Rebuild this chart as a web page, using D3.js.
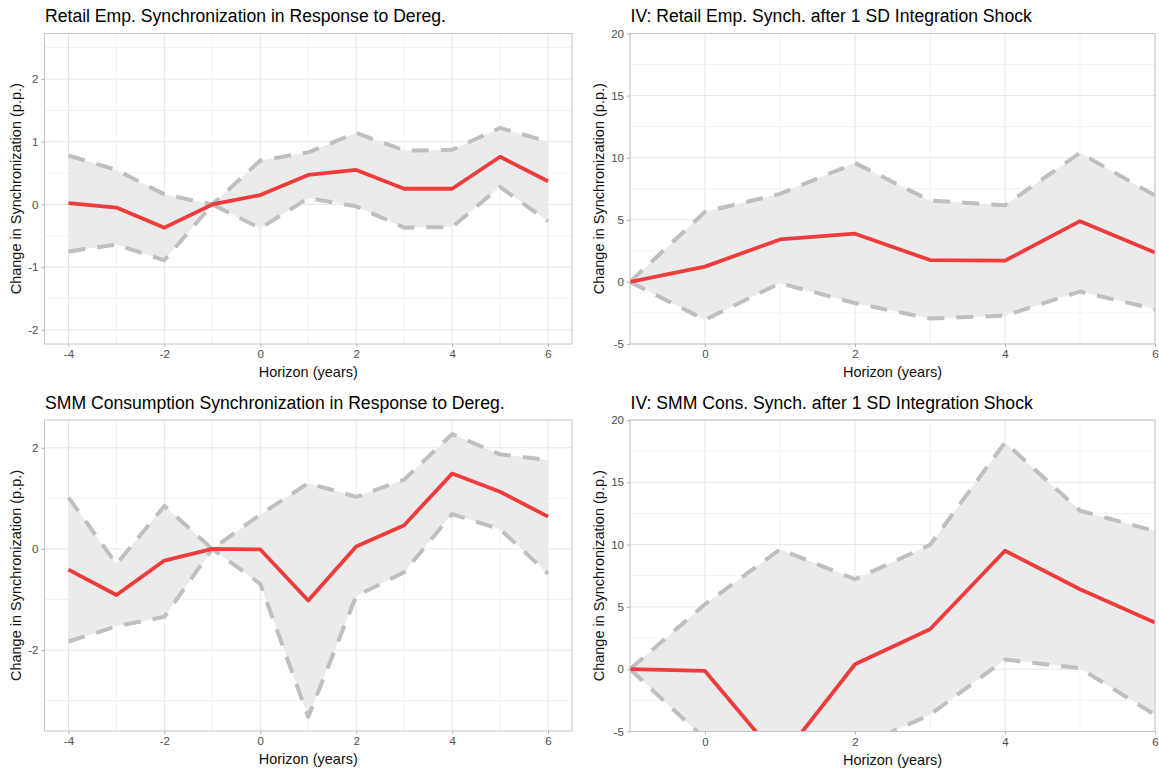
<!DOCTYPE html>
<html>
<head>
<meta charset="utf-8">
<script src="https://cdn.jsdelivr.net/npm/d3@7"></script>
<style>
  html, body { margin: 0; padding: 0; background: #ffffff; }
  svg { display: block; font-family: "Liberation Sans", Arial, sans-serif; }
</style>
</head>
<body>
<svg id="chart" width="1159" height="771"></svg>
<script>
// Event-study horizons (years relative to deregulation)
const horizonsDereg = [-4, -3, -2, -1, 0, 1, 2, 3, 4, 5, 6];
// IV horizons
const horizonsIV = [-1, 0, 1, 2, 3, 4, 5, 6];

// Retail employment synchronization, response to deregulation
const retailEst   = [0.02, -0.05, -0.37, 0, 0.15, 0.47, 0.55, 0.25, 0.25, 0.76, 0.37];
const retailUpper = [0.78, 0.55, 0.16, 0, 0.70, 0.83, 1.14, 0.86, 0.87, 1.22, 1.00];
const retailLower = [-0.75, -0.64, -0.89, 0, -0.38, 0.10, -0.03, -0.37, -0.36, 0.28, -0.27];

// IV: retail employment synchronization after a 1 SD integration shock
const ivRetailEst   = [0, 1.23, 3.42, 3.88, 1.76, 1.71, 4.89, 2.36];
const ivRetailUpper = [0, 5.64, 7.09, 9.57, 6.55, 6.17, 10.38, 6.95];
const ivRetailLower = [0, -3.05, -0.10, -1.71, -2.94, -2.72, -0.77, -2.19];

// SMM consumption synchronization, response to deregulation
const smmEst   = [-0.41, -0.91, -0.23, 0, -0.01, -1.02, 0.05, 0.47, 1.49, 1.13, 0.64];
const smmUpper = [1.02, -0.30, 0.85, 0, 0.68, 1.30, 1.03, 1.37, 2.27, 1.87, 1.76];
const smmLower = [-1.83, -1.53, -1.34, 0, -0.69, -3.32, -0.93, -0.46, 0.69, 0.39, -0.49];

// IV: SMM consumption synchronization after a 1 SD integration shock
const ivSmmEst   = [0, -0.14, -7.3, 0.40, 3.21, 9.51, 6.42, 3.74];
const ivSmmUpper = [0, 5.21, 9.62, 7.22, 9.97, 18.2, 12.72, 11.09];
const ivSmmLower = [0, -5.6, -10.5, -6.34, -3.66, 0.77, 0.08, -3.66];

// Tick values
const xTicksDereg = [-4, -2, 0, 2, 4, 6];
const xMinorDereg = [-3, -1, 1, 3, 5];
const xTicksIV = [0, 2, 4, 6];
const xMinorIV = [-1, 1, 3, 5];
const yTicksRetail = [-2, -1, 0, 1, 2];
const yMinorRetail = [-1.5, -0.5, 0.5, 1.5, 2.5];
const yTicksSmm = [-2, 0, 2];
const yMinorSmm = [-3, -1, 1];
const yTicksIV = [-5, 0, 5, 10, 15, 20];
const yMinorIV = [-2.5, 2.5, 7.5, 12.5, 17.5];

// Panel titles
const titles = [
  "Retail Emp. Synchronization in Response to Dereg.",
  "IV: Retail Emp. Synch. after 1 SD Integration Shock",
  "SMM Consumption Synchronization in Response to Dereg.",
  "IV: SMM Cons. Synch. after 1 SD Integration Shock"
];
const xTitle = "Horizon (years)";
const yTitle = "Change in Synchronization (p.p.)";

const svg = d3.select("#chart");

// Expanded y domain (5% padding on each side) from the band limits
function expandedDomain(lo, hi) {
  const mn = d3.min(lo), mx = d3.max(hi);
  const pad = (mx - mn) * 0.05;
  return [mn - pad, mx + pad];
}

const panels = [
  {
    box: { x0: 44.5, x1: 572, y0: 33.5, y1: 344 },
    title: titles[0], titleY: 22,
    xs: horizonsDereg, est: retailEst, up: retailUpper, lo: retailLower,
    xDomain: [-4.5, 6.5], yDomain: [-2.225, 2.725],
    xTicks: xTicksDereg, xMinor: xMinorDereg, yTicks: yTicksRetail, yMinor: yMinorRetail,
    yTitleX: 15.5
  },
  {
    box: { x0: 630, x1: 1155, y0: 33.5, y1: 344 },
    title: titles[1], titleY: 22,
    xs: horizonsIV, est: ivRetailEst, up: ivRetailUpper, lo: ivRetailLower,
    xDomain: [-1, 6], yDomain: [-5, 20],
    xTicks: xTicksIV, xMinor: xMinorIV, yTicks: yTicksIV, yMinor: yMinorIV,
    yTitleX: 599
  },
  {
    box: { x0: 44.5, x1: 572, y0: 420, y1: 731 },
    title: titles[2], titleY: 409,
    xs: horizonsDereg, est: smmEst, up: smmUpper, lo: smmLower,
    xDomain: [-4.5, 6.5], yDomain: expandedDomain(smmLower, smmUpper),
    xTicks: xTicksDereg, xMinor: xMinorDereg, yTicks: yTicksSmm, yMinor: yMinorSmm,
    yTitleX: 15.5
  },
  {
    box: { x0: 630, x1: 1155, y0: 420, y1: 731.5 },
    title: titles[3], titleY: 409,
    xs: horizonsIV, est: ivSmmEst, up: ivSmmUpper, lo: ivSmmLower,
    xDomain: [-1, 6], yDomain: [-5, 20],
    xTicks: xTicksIV, xMinor: xMinorIV, yTicks: yTicksIV, yMinor: yMinorIV,
    yTitleX: 599
  }
];

const gridColor = "#e6e6e6";
const minorColor = "#f1f1f1";
const borderColor = "#c6c6c6";
const textGrey = "#4d4d4d";

panels.forEach((p, i) => {
  const b = p.box;
  const x = d3.scaleLinear().domain(p.xDomain).range([b.x0, b.x1]);
  const y = d3.scaleLinear().domain(p.yDomain).range([b.y1, b.y0]);
  const g = svg.append("g");

  // clip region for the panel contents
  const clipId = "clip" + i;
  svg.append("clipPath").attr("id", clipId)
    .append("rect").attr("x", b.x0).attr("y", b.y0)
    .attr("width", b.x1 - b.x0).attr("height", b.y1 - b.y0);

  // minor grid
  const grid = g.append("g");
  grid.selectAll(".ymin").data(p.yMinor).join("line")
    .attr("x1", b.x0).attr("x2", b.x1)
    .attr("y1", d => y(d)).attr("y2", d => y(d))
    .attr("stroke", minorColor).attr("stroke-width", 1);
  grid.selectAll(".xmin").data(p.xMinor).join("line")
    .attr("y1", b.y0).attr("y2", b.y1)
    .attr("x1", d => x(d)).attr("x2", d => x(d))
    .attr("stroke", minorColor).attr("stroke-width", 1);
  // major grid
  grid.selectAll(".ymaj").data(p.yTicks).join("line")
    .attr("x1", b.x0).attr("x2", b.x1)
    .attr("y1", d => y(d)).attr("y2", d => y(d))
    .attr("stroke", gridColor).attr("stroke-width", 1);
  grid.selectAll(".xmaj").data(p.xTicks).join("line")
    .attr("y1", b.y0).attr("y2", b.y1)
    .attr("x1", d => x(d)).attr("x2", d => x(d))
    .attr("stroke", gridColor).attr("stroke-width", 1);

  const rows = p.xs.map((h, k) => ({ h, est: p.est[k], up: p.up[k], lo: p.lo[k] }));
  const plot = g.append("g").attr("clip-path", `url(#${clipId})`);

  // confidence band
  plot.append("path").datum(rows)
    .attr("d", d3.area().x(d => x(d.h)).y0(d => y(d.lo)).y1(d => y(d.up)))
    .attr("fill", "#ebebeb");

  // band limits (dashed)
  ["up", "lo"].forEach(key => {
    plot.append("path").datum(rows)
      .attr("d", d3.line().x(d => x(d.h)).y(d => y(d[key])))
      .attr("fill", "none")
      .attr("stroke", "#bfbfbf")
      .attr("stroke-width", 4)
      .attr("stroke-dasharray", "17,12")
      .attr("stroke-linejoin", "round");
  });

  // point estimate
  plot.append("path").datum(rows)
    .attr("d", d3.line().x(d => x(d.h)).y(d => y(d.est)))
    .attr("fill", "none")
    .attr("stroke", "#ee3b3b")
    .attr("stroke-width", 3.8)
    .attr("stroke-linejoin", "round");

  // panel border
  g.append("rect")
    .attr("x", b.x0).attr("y", b.y0)
    .attr("width", b.x1 - b.x0).attr("height", b.y1 - b.y0)
    .attr("fill", "none").attr("stroke", borderColor).attr("stroke-width", 1);

  // axes
  const xAxis = d3.axisBottom(x).tickValues(p.xTicks).tickSize(3).tickPadding(3)
    .tickFormat(d => d < 0 ? "-" + Math.abs(d) : String(d));
  const gx = g.append("g").attr("transform", `translate(0,${b.y1})`).call(xAxis);
  const yAxis = d3.axisLeft(y).tickValues(p.yTicks).tickSize(3).tickPadding(3)
    .tickFormat(d => d < 0 ? "-" + Math.abs(d) : String(d));
  const gy = g.append("g").attr("transform", `translate(${b.x0},0)`).call(yAxis);
  [gx, gy].forEach(ax => {
    ax.select(".domain").remove();
    ax.selectAll(".tick line").attr("stroke", "#b3b3b3");
    ax.selectAll(".tick text")
      .attr("fill", textGrey)
      .style("font-size", "11.5px")
      .style("font-family", "'Liberation Sans', Arial, sans-serif");
  });

  // axis titles
  g.append("text")
    .attr("x", (b.x0 + b.x1) / 2).attr("y", b.y1 + 33)
    .attr("text-anchor", "middle")
    .style("font-size", "14.5px").attr("fill", "#111")
    .text(xTitle);
  g.append("text")
    .attr("transform", `translate(${p.yTitleX + 5},${(b.y0 + b.y1) / 2}) rotate(-90)`)
    .attr("text-anchor", "middle")
    .style("font-size", "14.5px").attr("fill", "#111")
    .text(yTitle);

  // panel title
  g.append("text")
    .attr("x", b.x0 + 0.5).attr("y", p.titleY)
    .style("font-size", "17.6px").attr("fill", "#000")
    .text(p.title);
});
</script>
</body>
</html>
